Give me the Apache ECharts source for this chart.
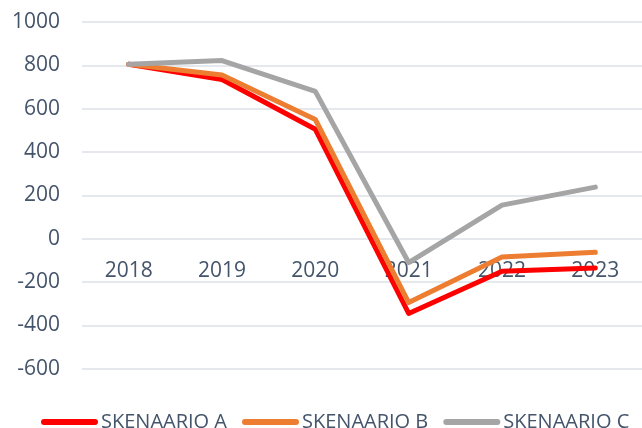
<!DOCTYPE html>
<html>
<head>
<meta charset="utf-8">
<script src="https://cdn.jsdelivr.net/npm/echarts@6/dist/echarts.min.js"></script>
<style>
  html, body { margin: 0; padding: 0; background: #fff; }
  #chart { width: 642px; height: 428px; }
</style>
</head>
<body>
<div id="chart"></div>
<script>
const years = ['2018', '2019', '2020', '2021', '2022', '2023']
const skenaarioA = [805, 735, 505, -345, -150, -135]
const skenaarioB = [805, 755, 550, -295, -85, -63]
const skenaarioC = [805, 822, 680, -110, 155, 238]
const seriesNames = ['SKENAARIO A', 'SKENAARIO B', 'SKENAARIO C']

const textColor = '#44546A'
const font = 'Open Sans'
// pill shaped legend marker
const pill = 'path://M3,0 H54 A3,3 0 0 1 54,6 H3 A3,3 0 0 1 3,0 Z'

const chart = echarts.init(document.getElementById('chart'))

function lineSeries(name, data, color) {
  return {
    name: name,
    type: 'line',
    data: data,
    showSymbol: false,
    symbol: 'none',
    color: color,
    lineStyle: { color: color, width: 5, cap: 'round', join: 'round' }
  }
}

const option = {
  animation: false,
  grid: { left: 82, top: 22, width: 563, bottom: 59.3 },
  legend: {
    top: 407,
    left: 36,
    width: 606,
    icon: pill,
    itemWidth: 57,
    itemHeight: 6,
    itemGap: 15,
    textStyle: { color: textColor, fontSize: 20, fontFamily: font, padding: [0, 0, 0, -2] },
    data: seriesNames
  },
  xAxis: {
    type: 'category',
    data: years,
    // sits on the zero line (zero is 3/8 up from the bottom of the -600..1000 range)
    offset: -129.7,
    axisLine: { show: false, onZero: false },
    axisTick: { show: false },
    axisLabel: { color: textColor, fontSize: 21, fontFamily: font, margin: 22 }
  },
  yAxis: {
    type: 'value',
    min: -600,
    max: 1000,
    interval: 200,
    axisLine: { show: false },
    axisTick: { show: false },
    axisLabel: { color: textColor, fontSize: 21, fontFamily: font, margin: 22, formatter: v => String(v) },
    splitLine: { lineStyle: { color: '#DDE1E7', width: 1.5 } }
  },
  series: [
    lineSeries(seriesNames[0], skenaarioA, '#FF0000'),
    lineSeries(seriesNames[1], skenaarioB, '#ED7D31'),
    lineSeries(seriesNames[2], skenaarioC, '#A5A5A5')
  ]
}

chart.setOption(option)
</script>
</body>
</html>
